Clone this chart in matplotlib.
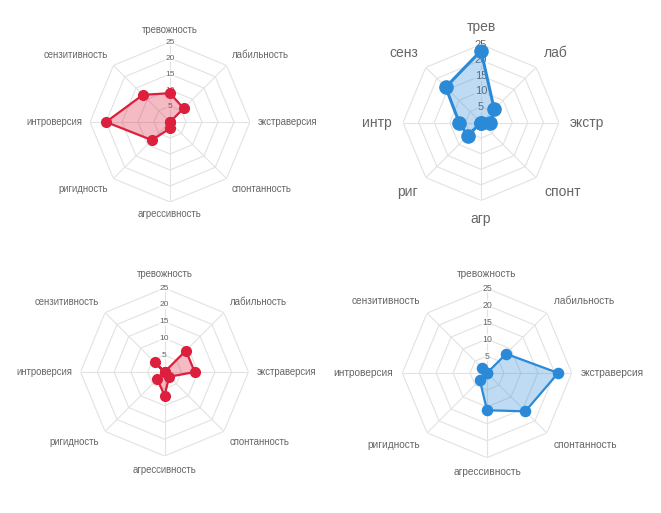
import numpy as np
from matplotlib import pyplot as plt

plt.rcParams['font.family'] = ['Liberation Sans', 'DejaVu Sans']

labelsFull = ['тревожность', 'лабильность', 'экстраверсия', 'спонтанность',
              'агрессивность', 'ригидность', 'интроверсия', 'сензитивность']
labelsShort = ['трев', 'лаб', 'экстр', 'спонт', 'агр', 'риг', 'интр', 'сенз']
ticks = [5, 10, 15, 20, 25]

valuesTopLeft = [9, 6, 0, 0, 2, 8, 20, 12]
valuesTopRight = [23, 6, 3, 0, 0, 6, 7, 16]
valuesBottomLeft = [0, 9, 9, 2, 7, 3, 0, 4]
valuesBottomRight = [0, 8, 21, 16, 11, 3, 0, 2]

RED = '#dc1f3c'
BLUE = '#2b8ad8'
W, H = 661, 513


def makeRadar(fig, cx, cy, radius, values, labels, color, labelSize, tickSize,
              markerSize, lineWidth, labelPad):
    # axes placed by center and radius in pixels
    ax = fig.add_axes([(cx - radius) / W, (H - cy - radius) / H,
                       2 * radius / W, 2 * radius / H], projection='polar')
    ax.set_theta_zero_location('N')
    ax.set_theta_direction(-1)
    ax.set_ylim(0, 25)
    ax.set_axis_off()

    n = len(labels)
    theta = np.linspace(0, 2 * np.pi, n, endpoint=False)
    thetaClosed = np.append(theta, theta[0])

    # octagon grid
    for t in ticks:
        ax.plot(thetaClosed, [t] * (n + 1), color='#e2e2e2', lw=0.8, zorder=1)
    for th in theta:
        ax.plot([th, th], [0, 25], color='#e2e2e2', lw=0.8, zorder=1)

    for t in ticks:
        ax.text(0, t, str(t), ha='center', va='center', fontsize=tickSize,
                color='#666666', zorder=2,
                bbox=dict(boxstyle='square,pad=0.05', fc='white', ec='none', alpha=0.75))

    vals = np.append(values, values[0])
    ax.fill(thetaClosed, vals, color=color, alpha=0.3, lw=0, zorder=3)
    ax.plot(thetaClosed, vals, color=color, lw=lineWidth, zorder=4)
    ax.plot(theta, values, 'o', color=color, markersize=markerSize, zorder=5)

    rLab = 25 * (radius + labelPad) / radius
    for th, lab in zip(theta, labels):
        s, c = np.sin(th), np.cos(th)
        ha = 'left' if s > 0.01 else ('right' if s < -0.01 else 'center')
        if abs(s) > 0.99:
            va = 'center'
        else:
            va = 'bottom' if c > 0 else 'top'
        ax.text(th, rLab, lab, ha=ha, va=va, fontsize=labelSize, color='#666666')
    return ax


fig = plt.figure(figsize=(W / 100, H / 100), dpi=100)

makeRadar(fig, 170, 122, 80, valuesTopLeft, labelsFull, RED, 6.9, 6, 7, 1.6, 7.3)
makeRadar(fig, 481, 122.5, 78, valuesTopRight, labelsShort, BLUE, 10, 8, 9.5, 2.2, 11)
makeRadar(fig, 164.5, 372, 84, valuesBottomLeft, labelsFull, RED, 6.9, 6, 7, 1.6, 8.6)
makeRadar(fig, 487, 373, 84.7, valuesBottomRight, labelsFull, BLUE, 7.3, 6.3, 7.3, 1.6, 9.5)

fig.savefig('out.png', dpi=100)
